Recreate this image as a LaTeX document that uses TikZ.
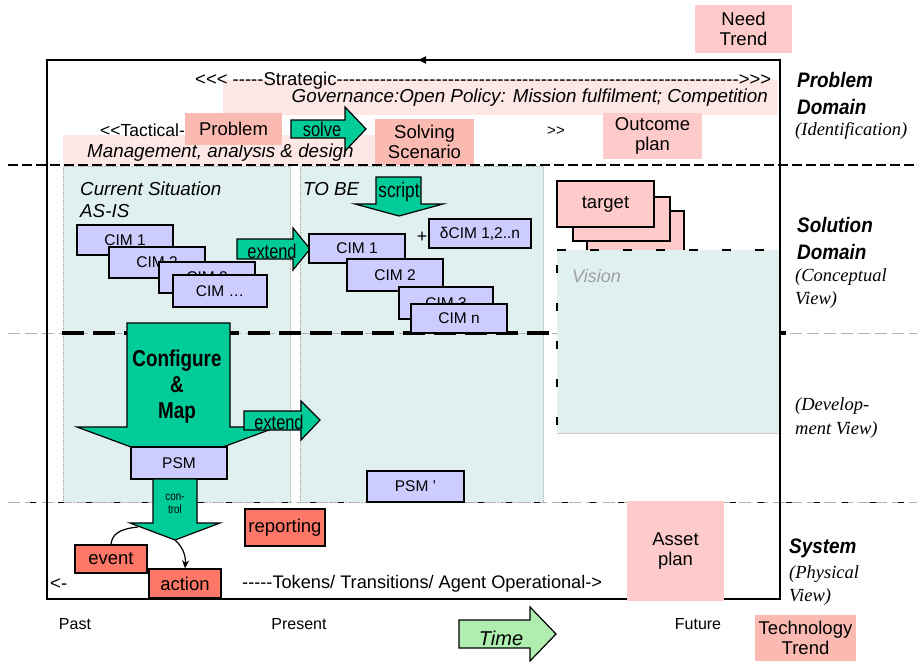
\documentclass[tikz,border=0pt]{standalone}
\usepackage{fontspec}
\setmainfont{Liberation Sans}[Ligatures=TeXOff]
\newfontfamily\narrowfont{Liberation Sans}[FakeStretch=0.82, Ligatures=TeXOff]
\newfontfamily\semifont{Liberation Sans}[FakeStretch=0.9, Ligatures=TeXOff]
\newfontfamily\viewfont{Liberation Serif}[Ligatures=TeXOff]
\usetikzlibrary{arrows.meta}

\definecolor{panelcyan}{HTML}{DFF0EF}
\definecolor{bandpink}{HTML}{FDE8E6}
\definecolor{salmonpink}{HTML}{FBBAB1}
\definecolor{softpink}{HTML}{FFCACA}
\definecolor{cimblue}{HTML}{CCCCFF}
\definecolor{eventred}{HTML}{FF7766}
\definecolor{arrowgreen}{HTML}{00CC99}
\definecolor{timegreen}{HTML}{B0EEB0}

\newcommand{\px}[1]{\fontsize{#1}{#1}\selectfont}

\begin{document}
\begin{tikzpicture}[x=1pt, y=-1pt,
    cim/.style={draw, line width=1.4pt, fill=cimblue, inner sep=0pt, font=\px{15.5}},
    trendbox/.style={fill=#1, inner sep=0pt, align=center, font=\px{18.5}},
    redbox/.style={draw, line width=1.4pt, fill=eventred, inner sep=0pt, font=\px{18.5}},
    fatarrow/.style={draw, line width=1.2pt, fill=arrowgreen, line join=miter},
    panel/.style={fill=panelcyan, draw=gray!60, densely dotted, line width=0.6pt},
    domainlabel/.style={anchor=west, inner sep=0pt, font=\semifont\px{21}\bfseries\itshape},
    viewlabel/.style={anchor=west, inner sep=0pt, font=\viewfont\px{18.5}\itshape},
    timelabel/.style={inner sep=0pt, font=\px{16}}]
    \useasboundingbox (0,0) rectangle (917,661);

    % Background bands and panels
    \fill[bandpink] (223,80) rectangle (778,115);
    \fill[bandpink] (63,135) rectangle (375,165);
    \draw[panel] (63,166) rectangle (290,502);
    \draw[panel] (300,166) rectangle (543,502);

    % Level separators
    \draw[gray!60, dash pattern=on 12pt off 5pt, line width=0.8pt] (8,502) -- (917,502);
    \draw[black, dash pattern=on 6pt off 22pt, line width=0.8pt] (30,502) -- (917,502);
    \draw[gray!60, dash pattern=on 12pt off 5pt, line width=0.8pt] (8,333) -- (917,333);
    \draw[black, dash pattern=on 22pt off 9pt, line width=3.2pt] (62,333) -- (786,333);

    % Main frame
    \draw[line width=1.5pt] (47,60) rectangle (780,599);
    \draw[-{Latex[length=9pt,width=8pt]}, line width=1.5pt] (440,60) -- (417,60);

    % Problem domain texts
    \node[anchor=west, inner sep=0pt] (strat) at (195,81)
        {\px{18.5}\makebox[576pt]{<<< -----Strategic\xleaders\hbox{-}\hfill>>>}};
    \node[anchor=east, inner sep=0pt, font=\px{18.8}\itshape] (gov) at (768,98)
        {Governance:Open Policy: Mission fulfilment; Competition};
    \node[anchor=west, inner sep=0pt, font=\px{17.5}] (tact) at (100,130) {<<Tactical-};
    \node[anchor=west, inner sep=0pt, font=\px{18.8}\itshape] (mgmt) at (87,153) {Management, analysis \& design};
    \node[inner sep=0pt, font=\px{15}] (gt) at (556,131) {>>};

    % Trend and plan boxes
    \node[trendbox=softpink, minimum width=97, minimum height=48] (need) at (743.5,29) {Need\\[2pt]Trend};
    \node[trendbox=salmonpink, minimum width=97, minimum height=32] (problem) at (233.5,129) {Problem};
    \node[trendbox=salmonpink, minimum width=99, minimum height=46] (solving) at (424.5,142) {Solving\\[2pt]Scenario};
    \node[trendbox=softpink, minimum width=99, minimum height=46] (outcome) at (652.5,136) {Outcome\\[2pt]plan};

    % solve
    \draw[fatarrow] (291,120) -- (345,120) -- (345,107) -- (366,129) -- (345,151) -- (345,138) -- (291,138) -- cycle;
    \node[font=\narrowfont\px{20}, inner sep=0pt] (solve) at (322,129) {solve};

    \draw[black, dash pattern=on 10pt off 4pt, line width=2.6pt] (8,165) -- (917,165);

    % AS-IS
    \node[anchor=west, inner sep=0pt, font=\px{18.8}\itshape, align=left] (asis) at (80,200) {Current Situation\\[3pt]AS-IS};
    \node[cim, minimum width=96, minimum height=30] (cimA) at (125,240) {CIM 1};
    \node[cim, minimum width=96, minimum height=31] (cimB) at (157,262.5) {CIM 2};
    \node[cim, minimum width=96, minimum height=31] (cimC) at (207,277.5) {CIM 3};
    \node[cim, minimum width=94, minimum height=32] (cimD) at (220,291) {CIM \dots};

    \draw[fatarrow] (237,239) -- (293,239) -- (293,228) -- (310,249) -- (293,270) -- (293,259) -- (237,259) -- cycle;
    \node[font=\narrowfont\px{20}, inner sep=0pt] (extA) at (272,251) {extend};

    % TO BE
    \node[anchor=west, inner sep=0pt, font=\px{18.8}\itshape] (tobe) at (303,189) {TO BE};
    \draw[fatarrow] (376,177) -- (421,177) -- (421,204) -- (443,204) -- (399,216) -- (355,204) -- (376,204) -- cycle;
    \node[font=\narrowfont\px{21}, inner sep=0pt] (script) at (399,192) {script};
    \node[inner sep=0pt, font=\px{18}] (plus) at (422,237) {+};
    \node[cim, minimum width=102, minimum height=29] (delta) at (480,233.5) {δCIM 1,2..n};
    \node[cim, minimum width=96, minimum height=29] (cimE) at (357,248.5) {CIM 1};
    \node[cim, minimum width=96, minimum height=32] (cimF) at (395,275) {CIM 2};
    \node[cim, minimum width=94, minimum height=32] (cimG) at (446,303) {CIM 3};
    \node[cim, minimum width=96, minimum height=29] (cimN) at (459,318.5) {CIM n};

    % Vision
    \node[cim, fill=softpink, minimum width=97, minimum height=44, font=\px{18.5}] (tgtC) at (635.5,233) {target};
    \node[cim, fill=softpink, minimum width=97, minimum height=44, font=\px{18.5}] (tgtB) at (621.5,219) {target};
    \node[cim, fill=softpink, minimum width=97, minimum height=46, font=\px{18.5}] (tgtA) at (605.5,204) {target};
    \fill[panelcyan] (557,250) rectangle (779,433);
    \draw[gray!60, densely dotted, line width=0.6pt] (557,433) -- (779,433);
    \draw[black, dash pattern=on 9pt off 24pt, line width=2.6pt] (557,250) -- (779,250);
    \draw[black, dash pattern=on 8pt off 30pt, line width=2.6pt] (557,265) -- (557,433);
    \node[anchor=west, inner sep=0pt, font=\px{18}\itshape, text=gray!75] (vision) at (572,276) {Vision};
    \draw[line width=1.5pt] (780,166) -- (780,599);

    % Configure & Map
    \draw[fatarrow] (127,323) -- (230,323) -- (230,427) -- (277,427) -- (177,464) -- (77,427) -- (127,427) -- cycle;
    \node[font=\narrowfont\px{23}\bfseries, align=center, inner sep=0pt] (config) at (177,387) {Configure\\[3pt]\&\\[3pt]Map};
    \draw[fatarrow] (244,411) -- (301,411) -- (301,401) -- (320,420) -- (301,440) -- (301,430) -- (244,430) -- cycle;
    \node[font=\narrowfont\px{20}, inner sep=0pt] (extB) at (279,422) {extend};
    \node[cim, minimum width=96, minimum height=32] (psm) at (179,463) {PSM};
    \node[cim, minimum width=97, minimum height=31] (psmB) at (415.5,486.5) {PSM ’};

    % control
    \draw[fatarrow] (153,479) -- (197,479) -- (197,523) -- (220,523) -- (175,540) -- (130,523) -- (153,523) -- cycle;
    \coordinate (ctlwing) at (138,527);
    \coordinate (ctltip) at (175,540);
    \node[font=\narrowfont\px{12}, align=center, inner sep=0pt] (ctl) at (175,504) {con-\\[1pt]trol};
    \node[redbox, minimum width=80, minimum height=37] (report) at (285,527.5) {reporting};
    \node[redbox, minimum width=72, minimum height=28] (event) at (111,559) {event};
    \node[redbox, minimum width=72, minimum height=29] (action) at (185,583.5) {action};
    \draw[line width=1.2pt] (ctlwing) .. controls (118,529) and (112,535) .. (event.north);
    \draw[-{Stealth[length=8pt,width=7pt]}, line width=1.2pt] (ctltip) .. controls (182,546) and (186,555) .. (action.north);

    % System level
    \node[anchor=west, inner sep=0pt, font=\px{18.5}] (left) at (50,584) {<-};
    \node[anchor=west, inner sep=0pt, font=\px{18.2}] (tokens) at (242,584) {-----Tokens/ Transitions/ Agent Operational->};
    \node[trendbox=softpink, minimum width=97, minimum height=100] (asset) at (675.5,551) {Asset\\[2pt]plan};

    % Domain labels
    \node[domainlabel] (probA) at (797,80) {Problem};
    \node[domainlabel] (probB) at (797,107) {Domain};
    \node[viewlabel] (ident) at (795,131) {(Identification)};
    \node[domainlabel] (solA) at (797,225) {Solution};
    \node[domainlabel] (solB) at (797,252) {Domain};
    \node[viewlabel] (concA) at (795,277) {(Conceptual};
    \node[viewlabel] (concB) at (795,300) {View)};
    \node[viewlabel] (devA) at (795,406) {(Develop-};
    \node[viewlabel] (devB) at (795,430) {ment View)};
    \node[domainlabel] (sys) at (789,548) {System};
    \node[viewlabel] (physA) at (789,574) {(Physical};
    \node[viewlabel] (physB) at (789,597) {View)};

    % Time axis
    \node[timelabel] (past) at (75,624) {Past};
    \node[timelabel] (present) at (299,624) {Present};
    \node[timelabel] (future) at (698,624) {Future};
    \draw[line width=1.2pt, fill=timegreen] (459,620) -- (530,620) -- (530,607) -- (556,634) -- (530,661) -- (530,648) -- (459,648) -- cycle;
    \node[font=\px{20}\itshape, inner sep=0pt] (time) at (501,638) {Time};
    \node[trendbox=salmonpink, minimum width=101, minimum height=46] (tech) at (805.5,638) {Technology\\[2pt]Trend};
\end{tikzpicture}
\end{document}
